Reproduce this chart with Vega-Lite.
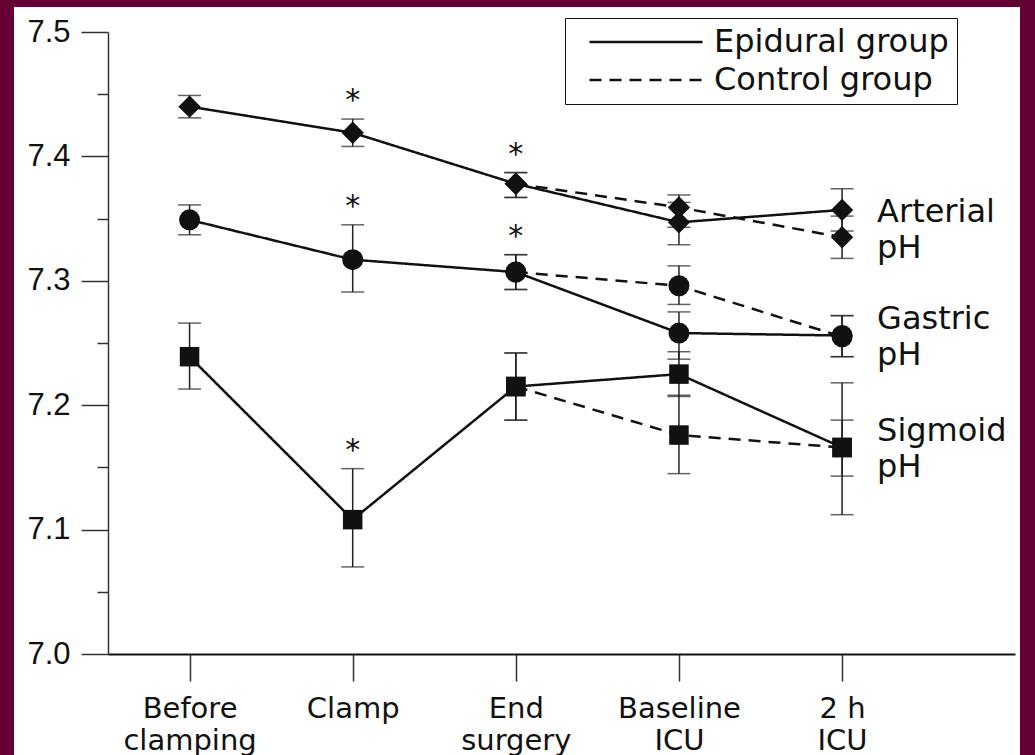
{
  "$schema": "https://vega.github.io/schema/vega-lite/v6.json",
  "width": 907,
  "height": 622,
  "padding": {"left": 14, "top": 6, "right": 15, "bottom": 0},
  "background": "#640032",
  "config": {"view": {"stroke": null}, "font": "DejaVu Sans"},
  "datasets": {
    "ph": [
      {"site": "Arterial", "group": "Epidural group", "t": 1, "ph": 7.440, "lo": 7.431, "hi": 7.449, "sig": 0},
      {"site": "Arterial", "group": "Epidural group", "t": 2, "ph": 7.419, "lo": 7.408, "hi": 7.430, "sig": 1},
      {"site": "Arterial", "group": "Epidural group", "t": 3, "ph": 7.378, "lo": 7.367, "hi": 7.387, "sig": 1},
      {"site": "Arterial", "group": "Epidural group", "t": 4, "ph": 7.347, "lo": 7.329, "hi": 7.363, "sig": 0},
      {"site": "Arterial", "group": "Epidural group", "t": 5, "ph": 7.357, "lo": 7.340, "hi": 7.374, "sig": 0},
      {"site": "Arterial", "group": "Control group", "t": 3, "ph": 7.378, "lo": 7.367, "hi": 7.387, "sig": 0},
      {"site": "Arterial", "group": "Control group", "t": 4, "ph": 7.359, "lo": 7.343, "hi": 7.369, "sig": 0},
      {"site": "Arterial", "group": "Control group", "t": 5, "ph": 7.335, "lo": 7.318, "hi": 7.352, "sig": 0},
      {"site": "Gastric", "group": "Epidural group", "t": 1, "ph": 7.349, "lo": 7.337, "hi": 7.361, "sig": 0},
      {"site": "Gastric", "group": "Epidural group", "t": 2, "ph": 7.317, "lo": 7.291, "hi": 7.345, "sig": 1},
      {"site": "Gastric", "group": "Epidural group", "t": 3, "ph": 7.307, "lo": 7.293, "hi": 7.321, "sig": 1},
      {"site": "Gastric", "group": "Epidural group", "t": 4, "ph": 7.258, "lo": 7.237, "hi": 7.275, "sig": 0},
      {"site": "Gastric", "group": "Epidural group", "t": 5, "ph": 7.256, "lo": 7.239, "hi": 7.272, "sig": 0},
      {"site": "Gastric", "group": "Control group", "t": 3, "ph": 7.307, "lo": 7.293, "hi": 7.321, "sig": 0},
      {"site": "Gastric", "group": "Control group", "t": 4, "ph": 7.296, "lo": 7.281, "hi": 7.312, "sig": 0},
      {"site": "Gastric", "group": "Control group", "t": 5, "ph": 7.255, "lo": 7.239, "hi": 7.272, "sig": 0},
      {"site": "Sigmoid", "group": "Epidural group", "t": 1, "ph": 7.239, "lo": 7.213, "hi": 7.266, "sig": 0},
      {"site": "Sigmoid", "group": "Epidural group", "t": 2, "ph": 7.108, "lo": 7.070, "hi": 7.149, "sig": 1},
      {"site": "Sigmoid", "group": "Epidural group", "t": 3, "ph": 7.215, "lo": 7.188, "hi": 7.242, "sig": 0},
      {"site": "Sigmoid", "group": "Epidural group", "t": 4, "ph": 7.225, "lo": 7.207, "hi": 7.243, "sig": 0},
      {"site": "Sigmoid", "group": "Epidural group", "t": 5, "ph": 7.166, "lo": 7.112, "hi": 7.218, "sig": 0},
      {"site": "Sigmoid", "group": "Control group", "t": 3, "ph": 7.215, "lo": 7.188, "hi": 7.242, "sig": 0},
      {"site": "Sigmoid", "group": "Control group", "t": 4, "ph": 7.176, "lo": 7.145, "hi": 7.208, "sig": 0},
      {"site": "Sigmoid", "group": "Control group", "t": 5, "ph": 7.166, "lo": 7.143, "hi": 7.188, "sig": 0}
    ],
    "labels": [
      {"label": "Arterial\npH", "t": 5, "ph": 7.347},
      {"label": "Gastric\npH", "t": 5, "ph": 7.2613},
      {"label": "Sigmoid\npH", "t": 5, "ph": 7.1712}
    ]
  },
  "layer": [
    {
      "data": {"values": [{"frame": "panel"}]},
      "mark": {"type": "rect", "fill": "white", "clip": false},
      "encoding": {
        "x": {"datum": -0.0762, "type": "quantitative", "scale": {"domain": [0.5, 6.06], "nice": false, "zero": false}},
        "x2": {"datum": 6.0906},
        "y": {"datum": 7.5201, "type": "quantitative", "scale": {"domain": [7.0, 7.5], "nice": false, "zero": false}},
        "y2": {"datum": 6.918}
      }
    },
    {
      "data": {"name": "ph"},
      "mark": {"type": "rule", "strokeWidth": 1.5, "color": "#222"},
      "encoding": {
        "x": {"field": "t", "type": "quantitative", "scale": {"domain": [0.5, 6.06], "nice": false, "zero": false},
          "axis": {"values": [1, 2, 3, 4, 5], "title": null, "grid": false, "zindex": 1, "tickSize": 27, "tickWidth": 1.5, "tickColor": "#333",
            "domainColor": "#111", "domainWidth": 2,
            "labelExpr": "[[''], ['Before', 'clamping'], ['Clamp'], ['End', 'surgery'], ['Baseline', 'ICU'], ['2 h', 'ICU']][datum.value]",
            "labelFont": "DejaVu Sans", "labelFontSize": 29, "labelColor": "#111", "labelLineHeight": 32, "labelBaseline": "top", "labelPadding": 13, "labelFlush": false, "labelOverlap": false}},
        "y": {"field": "lo", "type": "quantitative", "scale": {"domain": [7.0, 7.5], "nice": false, "zero": false},
          "axis": {"values": [7.0, 7.05, 7.1, 7.15, 7.2, 7.25, 7.3, 7.35, 7.4, 7.45, 7.5], "title": null, "grid": false, "zindex": 1,
            "tickSize": {"condition": {"test": "round(datum.value*20) % 2 == 0", "value": 27}, "value": 11},
            "tickWidth": 1.5, "tickColor": "#333", "domainColor": "#333", "domainWidth": 1.5,
            "labelExpr": "round(datum.value*20) % 2 == 0 ? format(datum.value, '.1f') : ''",
            "labelFont": "Liberation Sans", "labelFontSize": 31, "labelColor": "#111", "labelPadding": 11, "labelOverlap": false}},
        "y2": {"field": "hi"}
      }
    },
    {
      "data": {"name": "ph"},
      "mark": {"type": "tick", "orient": "horizontal", "size": 23, "thickness": 1.5, "color": "#222"},
      "encoding": {
        "x": {"field": "t", "type": "quantitative", "scale": {"domain": [0.5, 6.06], "nice": false, "zero": false}},
        "y": {"field": "lo", "type": "quantitative", "scale": {"domain": [7.0, 7.5], "nice": false, "zero": false}}
      }
    },
    {
      "data": {"name": "ph"},
      "mark": {"type": "tick", "orient": "horizontal", "size": 23, "thickness": 1.5, "color": "#222"},
      "encoding": {
        "x": {"field": "t", "type": "quantitative", "scale": {"domain": [0.5, 6.06], "nice": false, "zero": false}},
        "y": {"field": "hi", "type": "quantitative", "scale": {"domain": [7.0, 7.5], "nice": false, "zero": false}}
      }
    },
    {
      "data": {"name": "ph"},
      "mark": {"type": "line", "strokeWidth": 2.5, "color": "#111"},
      "encoding": {
        "x": {"field": "t", "type": "quantitative", "scale": {"domain": [0.5, 6.06], "nice": false, "zero": false}},
        "y": {"field": "ph", "type": "quantitative", "scale": {"domain": [7.0, 7.5], "nice": false, "zero": false}},
        "detail": {"field": "site", "type": "nominal"},
        "strokeDash": {"field": "group", "type": "nominal",
          "scale": {"domain": ["Epidural group", "Control group"], "range": [[1, 0], [12, 8]]},
          "legend": {"title": null, "orient": "none", "legendX": 457, "legendY": -14,
            "strokeColor": "#111", "padding": 8, "symbolOffset": 57, "rowPadding": 6,
            "symbolType": "M-5,0H5", "symbolSize": 511, "symbolStrokeWidth": 2.5, "symbolStrokeColor": "#111",
            "labelFont": "DejaVu Sans", "labelFontSize": 32, "labelColor": "#111", "labelOffset": 52, "labelLimit": 400}}
      }
    },
    {
      "data": {"name": "ph"},
      "mark": {"type": "point", "filled": true, "color": "#111", "opacity": 1},
      "encoding": {
        "x": {"field": "t", "type": "quantitative", "scale": {"domain": [0.5, 6.06], "nice": false, "zero": false}},
        "y": {"field": "ph", "type": "quantitative", "scale": {"domain": [7.0, 7.5], "nice": false, "zero": false}},
        "shape": {"field": "site", "type": "nominal", "scale": {"domain": ["Arterial", "Gastric", "Sigmoid"], "range": ["diamond", "circle", "square"]}, "legend": null},
        "size": {"field": "site", "type": "ordinal", "scale": {"domain": ["Arterial", "Gastric", "Sigmoid"], "range": [500, 380, 240]}, "legend": null}
      }
    },
    {
      "data": {"name": "ph"},
      "transform": [{"filter": "datum.sig == 1"}],
      "mark": {"type": "text", "text": "*", "fontSize": 30, "dy": -9, "baseline": "alphabetic", "font": "DejaVu Sans", "color": "#111"},
      "encoding": {
        "x": {"field": "t", "type": "quantitative", "scale": {"domain": [0.5, 6.06], "nice": false, "zero": false}},
        "y": {"field": "hi", "type": "quantitative", "scale": {"domain": [7.0, 7.5], "nice": false, "zero": false}}
      }
    },
    {
      "data": {"name": "labels"},
      "mark": {"type": "text", "align": "left", "baseline": "alphabetic", "dx": 35, "fontSize": 32, "lineHeight": 36, "lineBreak": "\n", "font": "DejaVu Sans", "color": "#111"},
      "encoding": {
        "x": {"field": "t", "type": "quantitative", "scale": {"domain": [0.5, 6.06], "nice": false, "zero": false}},
        "y": {"field": "ph", "type": "quantitative", "scale": {"domain": [7.0, 7.5], "nice": false, "zero": false}},
        "text": {"field": "label", "type": "nominal"}
      }
    }
  ]
}
